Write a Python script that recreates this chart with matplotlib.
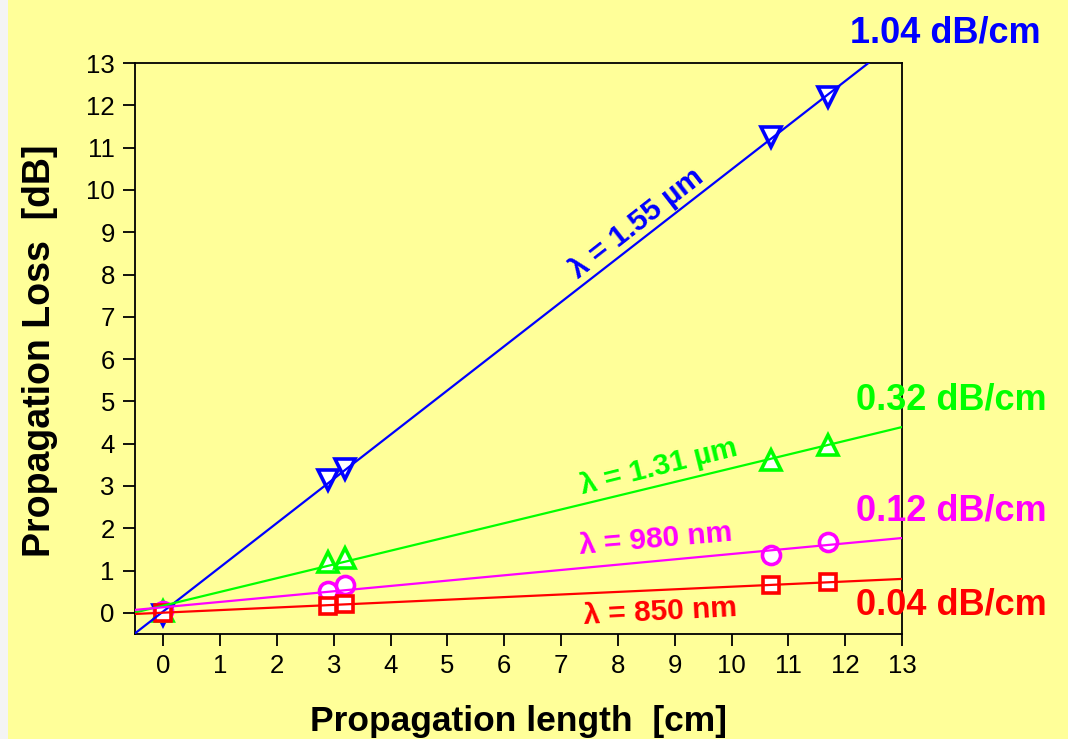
import numpy as np
import matplotlib
matplotlib.use("Agg")
import matplotlib.pyplot as plt
from matplotlib.patches import Rectangle

plt.rcParams['font.family'] = ['Liberation Sans', 'DejaVu Sans']

# ---- data ----
length_cm = [0.0, 2.9, 3.2, 10.7, 11.7]
loss_1550 = [-0.05, 3.15, 3.41, 11.25, 12.2]
loss_1310 = [0.05, 1.2, 1.29, 3.61, 3.96]
loss_980 = [0.05, 0.51, 0.65, 1.36, 1.68]
loss_850 = [0.0, 0.17, 0.22, 0.65, 0.73]

series_names = ["λ = 1.55 µm", "λ = 1.31 µm", "λ = 980 nm", "λ = 850 nm"]
slope_labels = ["1.04 dB/cm", "0.32 dB/cm", "0.12 dB/cm", "0.04 dB/cm"]
x_ticks = list(range(0, 14))
y_ticks = list(range(0, 14))

BG = '#FFFF99'
colors = ['#0000FF', '#00FF00', '#FF00FF', '#FF0000']
markers = ['v', '^', 'o', 's']
msizes = [14, 14, 13, 12]
series = [loss_1550, loss_1310, loss_980, loss_850]

fig = plt.figure(figsize=(10.68, 7.39), dpi=100, facecolor=BG)
fig.patches.append(Rectangle((0, 0), 8 / 1068, 1, transform=fig.transFigure,
                             facecolor='#F4F4F4', edgecolor='none', zorder=0))
ax = fig.add_axes([0.1264, 0.1421, 0.7182, 0.7726], facecolor=BG)

xfit = np.array([-0.5, 13.0])
for y, c, m, ms in zip(series, colors, markers, msizes):
    ax.plot(length_cm, y, linestyle='none', marker=m, markersize=ms,
            markerfacecolor='white', markeredgecolor=c, markeredgewidth=2.6,
            zorder=2, clip_on=False)
    p = np.polyfit(length_cm, y, 1)
    ax.plot(xfit, np.polyval(p, xfit), color=c, lw=1.6, zorder=3)

ax.set_xlim(-0.5, 13)
ax.set_ylim(-0.5, 13)
ax.set_xticks(x_ticks)
ax.set_yticks(y_ticks)
ax.tick_params(direction='out', length=8.5, width=1.3, labelsize=18.5, pad=6,
               top=False, right=False)
for s in ax.spines.values():
    s.set_linewidth(1.3)

ax.set_xlabel("Propagation length  [cm]", fontsize=25.5, fontweight='bold', labelpad=19)
ax.set_ylabel("Propagation Loss  [dB]", fontsize=27, fontweight='bold')
ax.yaxis.set_label_coords(-0.100, 0.496)

# line labels
lab_pos = [(8.33, 9.20, 38.0), (8.72, 3.45, 14.0), (8.67, 1.74, 5.0), (8.75, 0.02, 3.0)]
for name, c, (lx, ly, rot) in zip(series_names, colors, lab_pos):
    ax.text(lx, ly, name, color=c, fontsize=21.5, fontweight='bold', rotation=rot,
            rotation_mode='anchor', ha='center', va='center', zorder=4)

# slope labels
slope_pos = [(0.885, 0.955), (0.891, 0.459), (0.891, 0.3085), (0.891, 0.181)]
for t, c, (fx, fy) in zip(slope_labels, colors, slope_pos):
    fig.text(fx, fy, t, color=c, fontsize=26, fontweight='bold', ha='center', va='center')

fig.savefig('out.png', dpi=100, facecolor=BG)
